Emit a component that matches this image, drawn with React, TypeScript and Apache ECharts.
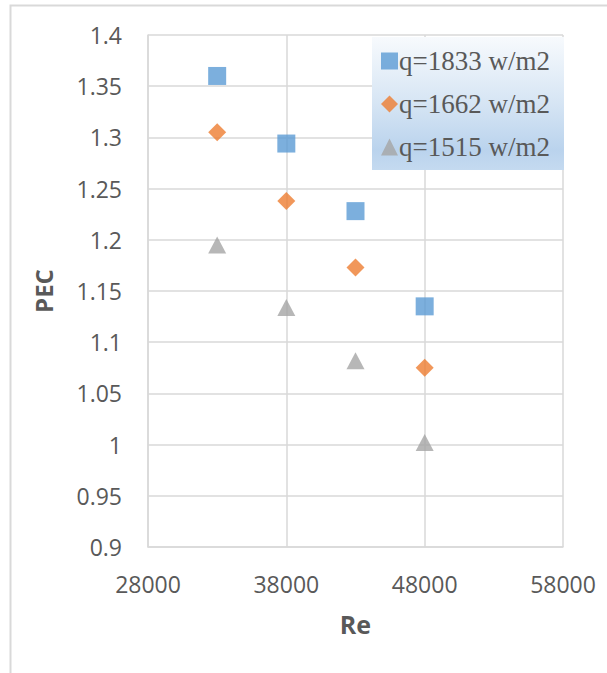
import React, { useEffect, useRef } from "react";
import * as echarts from "echarts";

const reValues = [33000, 38000, 43000, 48000];
const seriesNames = ["q=1833 w/m2", "q=1662 w/m2", "q=1515 w/m2"];
const pec1833 = [1.36, 1.294, 1.228, 1.135];
const pec1662 = [1.305, 1.238, 1.173, 1.075];
const pec1515 = [1.195, 1.134, 1.082, 1.002];
const seriesColors = ["#5b9bd5", "#ed7d31", "#a5a5a5"];
const seriesSymbols = ["rect", "diamond", "triangle"];

export default function App() {
  const ref = useRef<HTMLDivElement>(null);
  useEffect(() => {
    if (!ref.current) return;
    const chart = echarts.init(ref.current, null, { renderer: "svg" });
    const values = [pec1833, pec1662, pec1515];
    const axisFont = { fontFamily: "Open Sans", fontSize: 23, color: "#595959" };
    chart.setOption({
      animation: false,
      backgroundColor: "#ffffff",
      grid: { left: 148, top: 35, right: 44, bottom: 126, containLabel: false },
      graphic: [
        {
          type: "rect",
          z: 0,
          silent: true,
          shape: { x: 10.5, y: 5.5, width: 640, height: 720 },
          style: { fill: "none", stroke: "#d9d9d9", lineWidth: 2 },
        },
        {
          type: "rect",
          z: 50,
          silent: true,
          shape: { x: 372, y: 37, width: 192, height: 133 },
          style: {
            fill: new echarts.graphic.LinearGradient(0, 0, 0, 1, [
              { offset: 0, color: "#f7fafd" },
              { offset: 0.5, color: "#d6e5f4" },
              { offset: 0.85, color: "#bad3ed" },
              { offset: 1, color: "#c4daf0" },
            ]),
          },
        },
      ],
      legend: {
        orient: "vertical",
        left: 381,
        top: 47,
        z: 60,
        itemWidth: 17,
        itemHeight: 17,
        itemGap: 15,
        padding: 0,
        textStyle: {
          fontFamily: "Liberation Serif",
          fontSize: 27,
          lineHeight: 28,
          color: "#595959",
          padding: [0, 0, 0, -4],
        },
        data: seriesNames,
      },
      xAxis: {
        type: "value",
        min: 28000,
        max: 58000,
        interval: 10000,
        name: "Re",
        nameLocation: "middle",
        nameGap: 64,
        nameTextStyle: { fontFamily: "Open Sans", fontSize: 25, fontWeight: "bold", color: "#595959" },
        axisLine: { show: true, lineStyle: { color: "#d9d9d9", width: 1.5 } },
        axisTick: { show: false },
        splitLine: { show: true, lineStyle: { color: "#d9d9d9", width: 1.5 } },
        axisLabel: { ...axisFont, margin: 25, formatter: (v: number) => String(v) },
      },
      yAxis: {
        type: "value",
        min: 0.9,
        max: 1.4,
        interval: 0.05,
        name: "PEC",
        nameLocation: "middle",
        nameGap: 93,
        nameTextStyle: { fontFamily: "Open Sans", fontSize: 24, fontWeight: "bold", color: "#595959" },
        axisLine: { show: true, lineStyle: { color: "#d9d9d9", width: 1.5 } },
        axisTick: { show: false },
        splitLine: { show: true, lineStyle: { color: "#d9d9d9", width: 1.5 } },
        axisLabel: {
          ...axisFont,
          margin: 26,
          formatter: (v: number) => String(parseFloat(v.toFixed(2))),
        },
      },
      series: seriesNames.map((name, i) => ({
        name,
        type: "scatter",
        symbol: seriesSymbols[i],
        symbolSize: i === 2 ? [18, 17] : 18,
        itemStyle: { color: seriesColors[i] },
        data: reValues.map((x, j) => [x, values[i][j]]),
      })),
    });
    return () => chart.dispose();
  }, []);
  return (
    <div
      ref={ref}
      style={{ position: "fixed", left: 0, top: 0, width: 607, height: 673, background: "#fff" }}
    />
  );
}
